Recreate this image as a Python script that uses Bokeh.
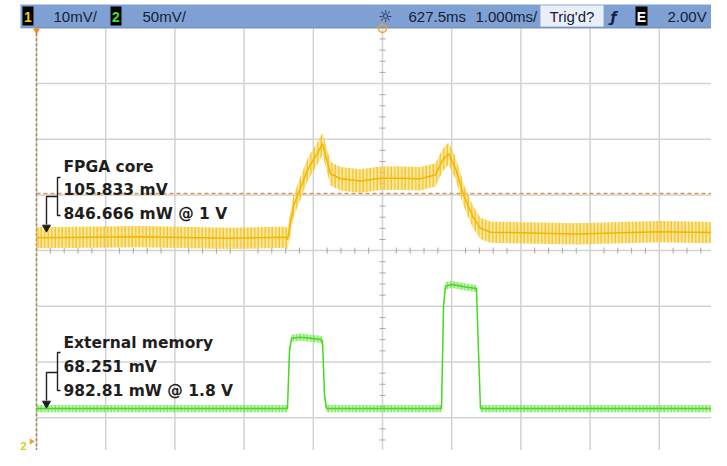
import numpy as np
from bokeh.plotting import figure
from bokeh.models import Range1d
from bokeh.core.properties import value
from bokeh.embed import file_html
from bokeh.resources import INLINE

# ---------------- scope settings ----------------
CH1_SCALE = 10.0      # mV / div
CH2_SCALE = 50.0      # mV / div
CH1_GND_DIV = 0.0     # ground position (divisions from bottom)
CH2_GND_DIV = 0.196
TRIG_LEVEL_MV = 50.25  # ch1 trigger level (mV)

ch1_label = "10mV/"
ch2_label = "50mV/"
delay_label = "627.5ms"
timebase_label = "1.000ms/"
trig_status = "Trig'd?"
trig_level_label = "2.00V"

fpga_title = "FPGA core"
fpga_lines = ["105.833 mV", "846.666 mW @ 1 V"]
mem_title = "External memory"
mem_lines = ["68.251 mV", "982.81 mW @ 1.8 V"]

# ---------------- traces (time in ms from screen centre) ----------------
# Channel 1 - FPGA core current (mV), centre of trace and half-width of noise band
ch1_t = [-5.00, -3.50, -2.20, -1.40, -1.373, -1.286, -1.084, -0.925, -0.867, -0.751,
         -0.607, -0.318, -0.029, 0.260, 0.549, 0.766, 0.867, 0.954, 1.055, 1.171,
         1.301, 1.416, 1.561, 2.80, 4.00, 4.90]
ch1_mv = [42.3, 42.5, 42.2, 42.4, 42.0, 48.0, 54.5, 57.8, 59.2, 53.8,
          52.9, 52.5, 53.0, 53.0, 52.9, 53.6, 56.2, 57.4, 54.8, 50.0,
          46.2, 44.0, 43.3, 43.0, 43.4, 43.2]
ch1_noise = [1.9, 1.9, 1.9, 1.9, 1.9, 2.0, 2.0, 2.0, 2.0, 2.1,
             2.1, 2.1, 2.1, 2.1, 2.1, 2.1, 2.0, 2.0, 2.0, 2.0,
             2.0, 1.9, 1.9, 1.9, 1.9, 1.9]

# Channel 2 - external memory current (mV)
ch2_t = [-5.00, -1.373, -1.344, -1.315, -1.185, -1.040, -0.896, -0.867, -0.838, -0.809,
         0.853, 0.882, 0.910, 1.012, 1.199, 1.358, 1.387, 1.416, 4.90]
ch2_mv = [48.4, 48.4, 100.0, 111.5, 112.5, 111.5, 110.5, 109.0, 60.0, 48.4,
          48.4, 140.0, 158.5, 159.8, 157.5, 156.2, 100.0, 48.4, 48.4]
ch2_noise = [3.2] * len(ch2_t)

# ---------------- layout helpers (reference pixels -> screen coordinates) ----------------
def px2t(px):
    return (px - 382.0) / 69.2


def py2d(py):
    return 8.0 - (py - 27.3) / 55.7


W, H = 711, 450
X0, X1 = px2t(0), px2t(W)
Y0, Y1 = py2d(H), py2d(0)

p = figure(width=W, height=H, x_range=Range1d(X0, X1), y_range=Range1d(Y0, Y1),
           output_backend="svg", toolbar_location=None, min_border=0,
           x_axis_location=None, y_axis_location=None, outline_line_color=None,
           background_fill_color="white", border_fill_color="white")
p.grid.visible = False

p.extra_y_ranges = {
    "ch1": Range1d((Y0 - CH1_GND_DIV) * CH1_SCALE, (Y1 - CH1_GND_DIV) * CH1_SCALE),
    "ch2": Range1d((Y0 - CH2_GND_DIV) * CH2_SCALE, (Y1 - CH2_GND_DIV) * CH2_SCALE),
}

# ---------------- graticule ----------------
vx = np.arange(-5, 6, 1.0)
p.segment(x0=vx, y0=-0.5, x1=vx, y1=8, line_color="#d2d2d2", line_width=1.5)
hy = np.arange(0, 9, 1.0)
p.segment(x0=-5, y0=hy, x1=5.2, y1=hy, line_color="#d2d2d2", line_width=1.5)

ty = np.array([v for v in np.arange(0.2, 8.0, 0.2) if abs(v - round(v)) > 1e-6])
p.scatter(x=0, y=ty, marker="dash", size=6, line_color="#a8a8a8", line_width=1)
tx = np.array([v for v in np.arange(-5.0, 5.2, 0.2) if abs(v - round(v)) > 1e-6])
p.scatter(x=tx, y=4, marker="dash", size=6, angle=np.pi / 2, line_color="#a8a8a8", line_width=1)

# trigger level and trigger-position markers
p.line(x=[-5, 5.2], y=[TRIG_LEVEL_MV, TRIG_LEVEL_MV], y_range_name="ch1",
       line_color="#d09a5e", line_dash="4 3", line_width=1.5)
p.line(x=[-5, -5], y=[-0.5, 8], line_color="#b0804f", line_dash="3 2", line_width=1.5)

# ---------------- traces ----------------
c1 = np.array(ch1_mv)
n1 = np.array(ch1_noise)
p.varea(x=ch1_t, y1=c1 - n1, y2=c1 + n1, y_range_name="ch1",
        fill_color="#f9d75a", fill_alpha=0.55,
        hatch_pattern="|", hatch_color="#f3bd10", hatch_scale=3.5, hatch_weight=1.3,
        hatch_alpha=0.9)
p.line(x=ch1_t, y=ch1_mv, y_range_name="ch1", line_color="#f2b600", line_width=1.5)

c2 = np.array(ch2_mv)
n2 = np.array(ch2_noise)
p.varea(x=ch2_t, y1=c2 - n2, y2=c2 + n2, y_range_name="ch2",
        fill_color="#8eec74", fill_alpha=0.5,
        hatch_pattern="|", hatch_color="#4fdc2a", hatch_scale=3.5, hatch_weight=1.0,
        hatch_alpha=0.8)
p.line(x=ch2_t, y=ch2_mv, y_range_name="ch2", line_color="#48d820", line_width=1.5)

# ---------------- annotations ----------------
ann_font = value("DejaVu Sans")
tx0 = px2t(63)
p.text(x=[tx0] * 3, y=[py2d(166), py2d(189), py2d(213)], text=[fpga_title] + fpga_lines,
       text_font=ann_font, text_font_style="bold", text_font_size="15.5px",
       text_color="#1e1e1e", text_baseline="alphabetic", text_align="left")
p.text(x=[tx0] * 3, y=[py2d(342), py2d(366), py2d(390)], text=[mem_title] + mem_lines,
       text_font=ann_font, text_font_style="bold", text_font_size="15.5px",
       text_color="#1e1e1e", text_baseline="alphabetic", text_align="left")

bx, bt, lx = px2t(57), px2t(60), px2t(46)
brackets_x = [[bt, bx, bx, bt], [bt, bx, bx, bt],
              [bx, lx, lx], [bx, lx, lx]]
brackets_y = [[py2d(177), py2d(177), py2d(215), py2d(215)],
              [py2d(352), py2d(352), py2d(390), py2d(390)],
              [py2d(196), py2d(196), py2d(224)],
              [py2d(372), py2d(372), py2d(400)]]
p.multi_line(xs=brackets_x, ys=brackets_y, line_color="#1e1e1e", line_width=1.4)
p.scatter(x=[lx, lx], y=[py2d(227), py2d(403)], marker="inverted_triangle", size=8,
          fill_color="#1e1e1e", line_color="#1e1e1e")

# channel-2 ground marker
p.text(x=[px2t(20)], y=[py2d(445)], text=["2"], text_font=value("Liberation Sans"),
       text_font_style="bold", text_font_size="11px", text_color="#c6d41c",
       text_baseline="alphabetic")
p.scatter(x=[px2t(31)], y=[py2d(441)], marker="triangle", angle=-np.pi / 2, size=6,
          fill_color="#f0a020", line_color=None)

# ---------------- header bar ----------------
p.quad(left=px2t(20), right=X1 + 1, bottom=8.0, top=py2d(4),
       fill_color="#7fa0d2", line_color=None)
p.line(x=[px2t(20), X1 + 1], y=[8.0, 8.0], line_color="#6a88b8", line_width=1)

# orange trigger position / delay markers
p.scatter(x=[-5.0], y=[py2d(30)], marker="inverted_triangle", size=7,
          fill_color="#f08c1a", line_color=None)
p.scatter(x=[0.0], y=[py2d(28)], marker="circle", size=8, fill_color=None,
          line_color="#f0a030", line_width=1.5)

hb, ht = py2d(25), py2d(6)
p.quad(left=[px2t(22), px2t(110), px2t(635)], right=[px2t(33), px2t(121), px2t(647)],
       bottom=hb, top=ht, fill_color="black", line_color=None)
p.quad(left=px2t(540), right=px2t(603), bottom=py2d(26), top=py2d(5),
       fill_color="#e9eff9", line_color="#c0cfe6", line_width=1)

hy_mid = py2d(16)
hfont = value("Liberation Sans")
p.text(x=[px2t(27.5), px2t(115.5), px2t(641)], y=hy_mid, text=["1", "2", "E"],
       text_color=["#f5d000", "#3ce030", "white"], text_font=hfont, text_font_style="bold",
       text_font_size="14px", text_align="center", text_baseline="middle")
p.text(x=[px2t(53), px2t(142), px2t(408), px2t(475), px2t(667)], y=hy_mid,
       text=[ch1_label, ch2_label, delay_label, timebase_label, trig_level_label],
       text_color="#14203a", text_font=hfont, text_font_size="15px",
       text_align="left", text_baseline="middle")
p.text(x=[px2t(571.5)], y=[hy_mid], text=[trig_status], text_color="#14203a", text_font=hfont,
       text_font_size="15px", text_align="center", text_baseline="middle")
p.text(x=[px2t(385)], y=[hy_mid], text=["\u263c"], text_color="#14203a",
       text_font=value("DejaVu Sans"), text_font_size="16px", text_align="center",
       text_baseline="middle")
p.text(x=[px2t(613)], y=[hy_mid], text=["\u0192"], text_color="#14203a",
       text_font=value("DejaVu Sans"), text_font_style="bold italic", text_font_size="14px",
       text_align="center", text_baseline="middle")

open("out.html", "w").write(file_html(p, INLINE))
